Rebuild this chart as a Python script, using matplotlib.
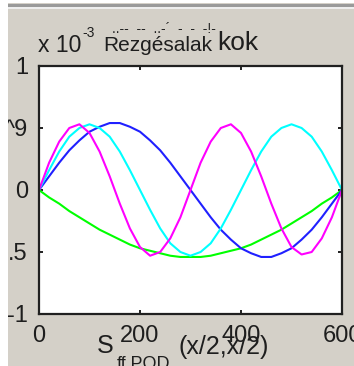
import matplotlib
matplotlib.use("Agg")
import matplotlib.pyplot as plt
from matplotlib.patches import Rectangle

# ---- data (units of 1e-3) ----
x = [0, 20, 40, 60, 80, 100, 120, 140, 160, 180, 200, 220, 240, 260, 280, 300,
     320, 340, 360, 380, 400, 420, 440, 460, 480, 500, 520, 540, 560, 580, 600]

green = [0, -0.06, -0.11, -0.17, -0.22, -0.27, -0.32, -0.36, -0.40, -0.44, -0.47,
         -0.49, -0.51, -0.53, -0.54, -0.54, -0.54, -0.53, -0.51, -0.49, -0.47,
         -0.44, -0.40, -0.36, -0.32, -0.27, -0.22, -0.17, -0.11, -0.06, 0]

blue = [0, 0.11, 0.22, 0.32, 0.40, 0.47, 0.51, 0.54, 0.54, 0.51, 0.47, 0.40,
        0.32, 0.22, 0.11, 0, -0.11, -0.22, -0.32, -0.40, -0.47, -0.51, -0.54,
        -0.54, -0.51, -0.47, -0.40, -0.32, -0.22, -0.11, 0]

cyan = [0, 0.16, 0.31, 0.43, 0.50, 0.53, 0.50, 0.43, 0.31, 0.16, 0, -0.16,
        -0.31, -0.43, -0.50, -0.53, -0.50, -0.43, -0.31, -0.16, 0, 0.16, 0.31,
        0.43, 0.50, 0.53, 0.50, 0.43, 0.31, 0.16, 0]

magenta = [0, 0.22, 0.39, 0.50, 0.53, 0.46, 0.31, 0.11, -0.11, -0.31, -0.46,
           -0.53, -0.50, -0.39, -0.22, 0, 0.22, 0.39, 0.50, 0.53, 0.46, 0.31,
           0.11, -0.11, -0.31, -0.46, -0.52, -0.50, -0.39, -0.22, 0]

xticks = [0, 200, 400, 600]
xticklabels = ['0', '200', '400', '600']
yticks = [-1, -0.5, 0, 0.5, 1]
yticklabels = ['-1', '.5', '0', '^9', '1']

W, H = 354, 366
BG = '#d4d0c8'
FONT = 'Liberation Sans'
TXT = '#1e1e1e'

fig = plt.figure(figsize=(W / 100, H / 100), dpi=100, facecolor=BG)

def fx(px):
    return px / W

def fy(py):
    return 1 - py / H

# window frame details
fig.patches.append(Rectangle((0, 0), fx(8), 1, transform=fig.transFigure,
                             facecolor='white', edgecolor='none', zorder=0))
fig.patches.append(Rectangle((0, fy(3)), 1, 3 / H, transform=fig.transFigure,
                             facecolor='white', edgecolor='none', zorder=0))
fig.patches.append(Rectangle((fx(8), fy(7)), 1, 3 / H, transform=fig.transFigure,
                             facecolor='#9a9a9a', edgecolor='none', zorder=0))
fig.patches.append(Rectangle((fx(8), fy(9)), 1, 2 / H, transform=fig.transFigure,
                             facecolor='#eeeeee', edgecolor='none', zorder=0))

ax = fig.add_axes([fx(39), fy(314), (342 - 39) / W, (314 - 66) / H])
ax.set_facecolor('white')

lw = 1.5
ax.plot(x, green, color='#00ff00', lw=lw)
ax.plot(x, blue, color='#2020ff', lw=lw)
ax.plot(x, cyan, color='#00ffff', lw=lw)
ax.plot(x, magenta, color='#ff00ff', lw=lw)

ax.set_xlim(0, 600)
ax.set_ylim(-1, 1)
ax.set_xticks(xticks)
ax.set_xticklabels(xticklabels)
ax.set_yticks(yticks)
ax.set_yticklabels(yticklabels)
ax.tick_params(direction='in', length=3, width=1.4, color='#202020',
               top=True, right=True, labelsize=17, pad=8, labelcolor=TXT)
for lab in ax.get_xticklabels() + ax.get_yticklabels():
    lab.set_fontfamily(FONT)
for s in ax.spines.values():
    s.set_linewidth(1.6)
    s.set_color('#202020')

# title pieces
fig.text(fx(38), fy(52), 'x 10', fontsize=16.5, family=FONT, color=TXT)
fig.text(fx(82), fy(37), '-3', fontsize=10, family=FONT, color=TXT)
fig.text(fx(112), fy(33), '..--  --  ..-\u00b4  -  -  -!-', fontsize=10, family=FONT, color=TXT)
fig.text(fx(103), fy(51), 'Rezgésalak', fontsize=15, family=FONT, color=TXT)
fig.text(fx(217), fy(50), 'kok', fontsize=19, family=FONT, color=TXT)

# xlabel pieces
fig.text(fx(97), fy(353), 'S', fontsize=18, family=FONT, color=TXT)
fig.text(fx(117), fy(369), 'ff,POD', fontsize=13, family=FONT, color=TXT)
fig.text(fx(179), fy(354), '(x/2,x/2)', fontsize=18, family=FONT, color=TXT)

fig.savefig('out.png', dpi=100, facecolor=BG)
